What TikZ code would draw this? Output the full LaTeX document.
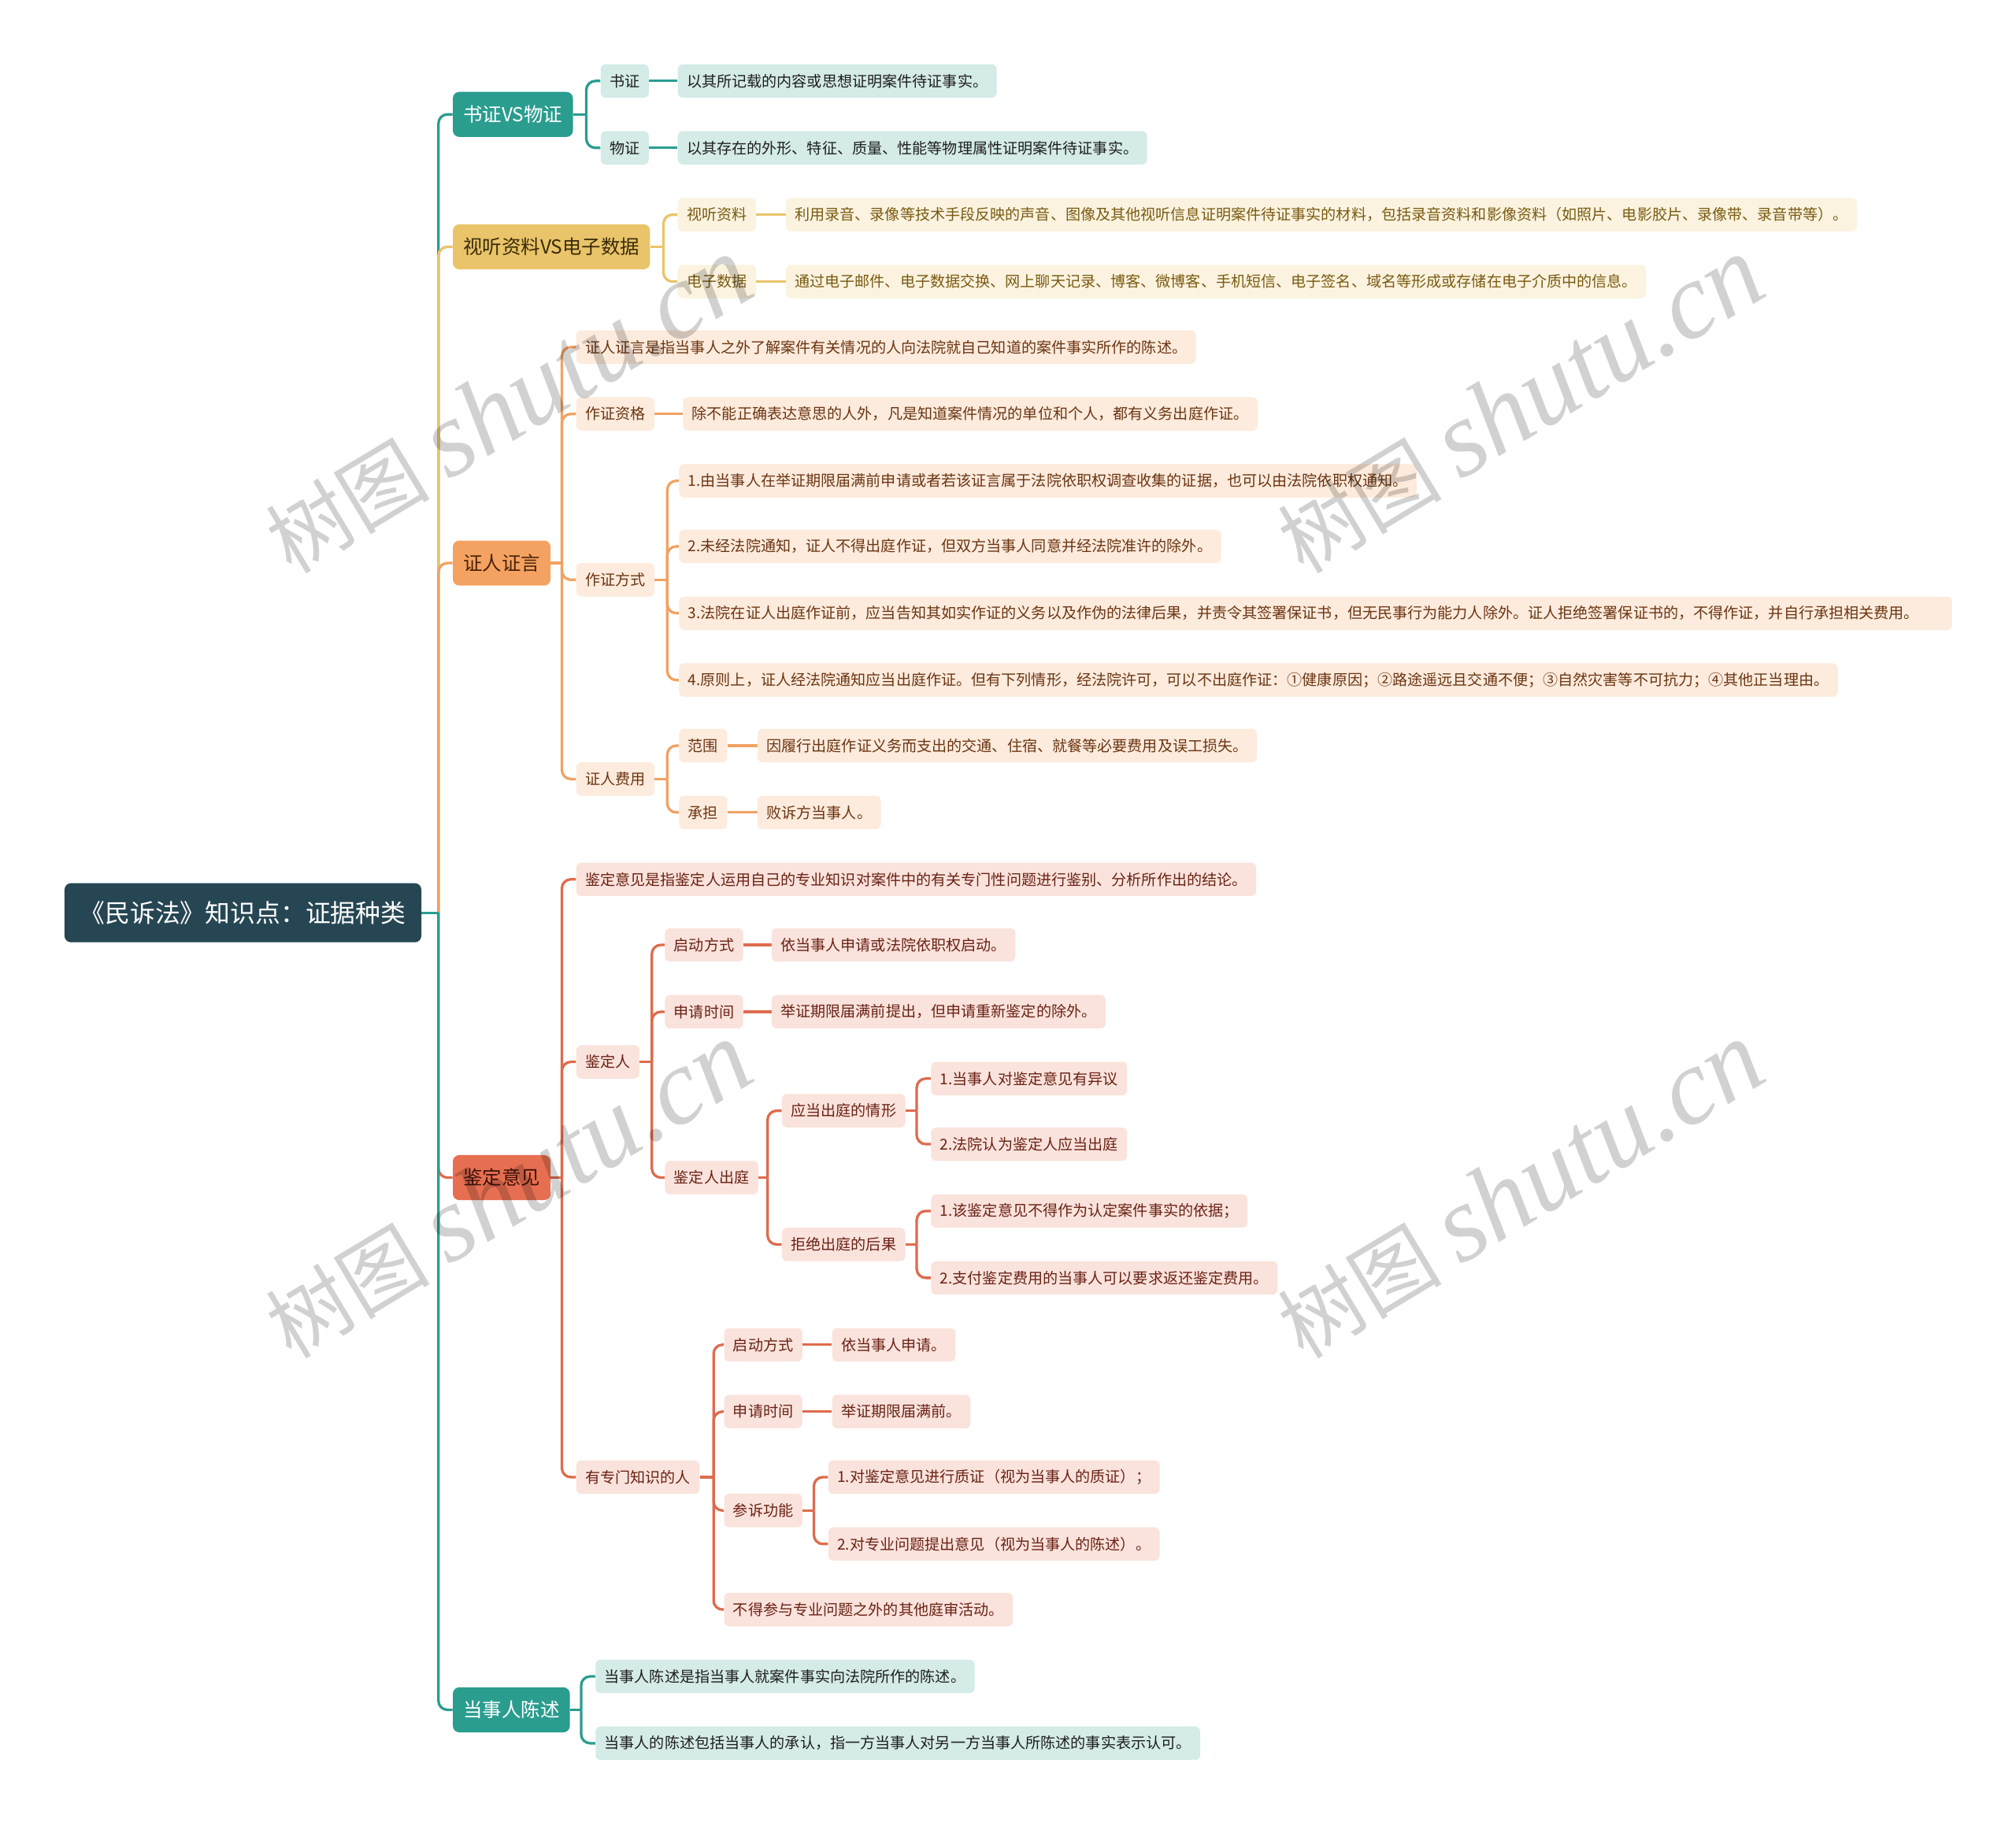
\documentclass[tikz,border=0pt]{standalone}
\usepackage{fontspec}
\setmainfont{Noto Sans CJK SC}
\newfontfamily\wmfont{Liberation Serif}
\usetikzlibrary{calc,backgrounds}
\definecolor{rootC}{HTML}{264653}
\definecolor{tealC}{HTML}{2A9D8F}
\definecolor{tealF}{HTML}{D4EBE8}
\definecolor{tealT}{HTML}{1E1E1E}
\definecolor{yelC}{HTML}{E9C46A}
\definecolor{yelF}{HTML}{FBF3E0}
\definecolor{yelT}{HTML}{7A5A10}
\definecolor{yelM}{HTML}{3A2C08}
\definecolor{oraC}{HTML}{F0A262}
\definecolor{oraM}{HTML}{F4A261}
\definecolor{oraF}{HTML}{FDEBDD}
\definecolor{oraT}{HTML}{6B3512}
\definecolor{oraMT}{HTML}{4A2206}
\definecolor{redC}{HTML}{DE6B4D}
\definecolor{redM}{HTML}{E76F51}
\definecolor{redF}{HTML}{FAE3DC}
\definecolor{redT}{HTML}{6A2114}
\definecolor{redMT}{HTML}{3E1209}
\tikzset{
  box/.style={rounded corners=4pt, inner xsep=7pt, inner ysep=0pt, minimum height=26pt,
    font=\fontsize{11.7}{12}\selectfont, anchor=west},
  mainbox/.style={rounded corners=5pt, inner xsep=8pt, inner ysep=0pt, minimum height=35pt,
    font=\fontsize{15}{16}\selectfont, anchor=west},
  rootbox/.style={rounded corners=5pt, inner xsep=12pt, inner ysep=0pt, minimum height=46pt,
    font=\fontsize{19.5}{20}\selectfont, anchor=west, fill=rootC, text=white},
  mT/.style={mainbox, fill=tealC, text=white},
  mY/.style={mainbox, fill=yelC, text=yelM},
  mO/.style={mainbox, fill=oraM, text=oraMT},
  mR/.style={mainbox, fill=redM, text=redMT},
  bT/.style={box, fill=tealF, text=tealT},
  bY/.style={box, fill=yelF, text=yelT},
  bO/.style={box, fill=oraF, text=oraT},
  bR/.style={box, fill=redF, text=redT},
  lT/.style={draw=tealC, line width=2pt, rounded corners=7pt},
  lY/.style={draw=yelC, line width=2pt, rounded corners=7pt},
  lO/.style={draw=oraC, line width=2pt, rounded corners=7pt},
  lR/.style={draw=redC, line width=2pt, rounded corners=7pt},
  wm/.style={text=black, text opacity=0.18, inner sep=0pt, font=\fontsize{64}{66}\selectfont, rotate=31},
}
\newcommand{\wmtext}{树图 {\wmfont\itshape\fontsize{84}{86}\selectfont shutu.cn}}
\begin{document}
\begin{tikzpicture}[x=1pt,y=-1pt]
\useasboundingbox (0,0) rectangle (1568,1420);

% ---------- nodes ----------
\node[rootbox] (root) at (50,710) {《民诉法》知识点：证据种类};

\node[mT] (m1) at (352,89) {书证VS物证};
\node[mY] (m2) at (352,192) {视听资料VS电子数据};
\node[mO] (m3) at (352,438) {证人证言};
\node[mR] (m4) at (352,916) {鉴定意见};
\node[mT] (m5) at (352,1330) {当事人陈述};

% branch 1
\node[bT] (a1) at (467,63) {书证};
\node[bT] (a1l) at (527,63) {以其所记载的内容或思想证明案件待证事实。};
\node[bT] (a2) at (467,115) {物证};
\node[bT] (a2l) at (527,115) {以其存在的外形、特征、质量、性能等物理属性证明案件待证事实。};

% branch 2
\node[bY] (b1) at (527,167) {视听资料};
\node[bY] (b1l) at (611,167) {利用录音、录像等技术手段反映的声音、图像及其他视听信息证明案件待证事实的材料，包括录音资料和影像资料（如照片、电影胶片、录像带、录音带等）。};
\node[bY] (b2) at (527,219) {电子数据};
\node[bY] (b2l) at (611,219) {通过电子邮件、电子数据交换、网上聊天记录、博客、微博客、手机短信、电子签名、域名等形成或存储在电子介质中的信息。};

% branch 3
\node[bO] (c0) at (448,270) {证人证言是指当事人之外了解案件有关情况的人向法院就自己知道的案件事实所作的陈述。};
\node[bO] (c1) at (448,322) {作证资格};
\node[bO] (c1l) at (531,322) {除不能正确表达意思的人外，凡是知道案件情况的单位和个人，都有义务出庭作证。};
\node[bO] (c2) at (448,451) {作证方式};
\node[bO] (c21) at (528,374) {1.由当事人在举证期限届满前申请或者若该证言属于法院依职权调查收集的证据，也可以由法院依职权通知。};
\node[bO] (c22) at (528,425) {2.未经法院通知，证人不得出庭作证，但双方当事人同意并经法院准许的除外。};
\node[bO, text width=976pt] (c23) at (528,477) {3.法院在证人出庭作证前，应当告知其如实作证的义务以及作伪的法律后果，并责令其签署保证书，但无民事行为能力人除外。证人拒绝签署保证书的，不得作证，并自行承担相关费用。};
\node[bO] (c24) at (528,529) {4.原则上，证人经法院通知应当出庭作证。但有下列情形，经法院许可，可以不出庭作证：①健康原因；②路途遥远且交通不便；③自然灾害等不可抗力；④其他正当理由。};
\node[bO] (c3) at (448,606) {证人费用};
\node[bO] (c31) at (528,580) {范围};
\node[bO] (c31l) at (589,580) {因履行出庭作证义务而支出的交通、住宿、就餐等必要费用及误工损失。};
\node[bO] (c32) at (528,632) {承担};
\node[bO] (c32l) at (589,632) {败诉方当事人。};

% branch 4
\node[bR] (d0) at (448,684) {鉴定意见是指鉴定人运用自己的专业知识对案件中的有关专门性问题进行鉴别、分析所作出的结论。};
\node[bR] (d1) at (448,826) {鉴定人};
\node[bR] (d11) at (517,735) {启动方式};
\node[bR] (d11l) at (600,735) {依当事人申请或法院依职权启动。};
\node[bR] (d12) at (517,787) {申请时间};
\node[bR] (d12l) at (600,787) {举证期限届满前提出，但申请重新鉴定的除外。};
\node[bR] (d13) at (517,916) {鉴定人出庭};
\node[bR] (d131) at (608,864) {应当出庭的情形};
\node[bR] (d1311) at (724,839) {1.当事人对鉴定意见有异议};
\node[bR] (d1312) at (724,890) {2.法院认为鉴定人应当出庭};
\node[bR] (d132) at (608,968) {拒绝出庭的后果};
\node[bR] (d1321) at (724,942) {1.该鉴定意见不得作为认定案件事实的依据；};
\node[bR] (d1322) at (724,994) {2.支付鉴定费用的当事人可以要求返还鉴定费用。};
\node[bR] (d2) at (448,1149) {有专门知识的人};
\node[bR] (d21) at (563,1046) {启动方式};
\node[bR] (d21l) at (647,1046) {依当事人申请。};
\node[bR] (d22) at (563,1098) {申请时间};
\node[bR] (d22l) at (647,1098) {举证期限届满前。};
\node[bR] (d23) at (563,1175) {参诉功能};
\node[bR] (d231) at (644,1149) {1.对鉴定意见进行质证（视为当事人的质证）；};
\node[bR] (d232) at (644,1201) {2.对专业问题提出意见（视为当事人的陈述）。};
\node[bR] (d24) at (563,1252) {不得参与专业问题之外的其他庭审活动。};

% branch 5
\node[bT] (e1) at (463,1304) {当事人陈述是指当事人就案件事实向法院所作的陈述。};
\node[bT] (e2) at (463,1356) {当事人的陈述包括当事人的承认，指一方当事人对另一方当事人所陈述的事实表示认可。};

% ---------- bus points ----------
\coordinate (rb) at (341,710);
\coordinate (bm1) at (456,89);
\coordinate (bm2) at (516,192);
\coordinate (bm3) at (437,438);
\coordinate (bc2) at (519,451);
\coordinate (bc3) at (519,606);
\coordinate (bm4) at (437,916);
\coordinate (bd1) at (507,826);
\coordinate (bd13) at (597,916);
\coordinate (bd131) at (713,864);
\coordinate (bd132) at (713,968);
\coordinate (bd2) at (555,1149);
\coordinate (bd23) at (633,1175);
\coordinate (bm5) at (452,1330);

% ---------- connectors ----------
\begin{scope}[on background layer]
\fill[white] (0,0) rectangle (1568,1420);
% root
\draw[lT] (root.east) -- (rb); \draw[lT] (rb) |- (m1.west);
\draw[lY] (root.east) -- (rb); \draw[lY] (rb) |- (m2.west);
\draw[lO] (root.east) -- (rb); \draw[lO] (rb) |- (m3.west);
\draw[lR] (root.east) -- (rb); \draw[lR] (rb) |- (m4.west);
\draw[lT] (root.east) -- (rb); \draw[lT] (rb) |- (m5.west);
% branch 1
\draw[lT] (m1.east) -- (bm1);
\draw[lT] (bm1) |- (a1.west); \draw[lT] (bm1) |- (a2.west);
\draw[lT] (a1.east) -- (a1l.west); \draw[lT] (a2.east) -- (a2l.west);
% branch 2
\draw[lY] (m2.east) -- (bm2);
\draw[lY] (bm2) |- (b1.west); \draw[lY] (bm2) |- (b2.west);
\draw[lY] (b1.east) -- (b1l.west); \draw[lY] (b2.east) -- (b2l.west);
% branch 3
\draw[lO] (m3.east) -- (bm3);
\foreach \n in {c0,c1,c2,c3} \draw[lO] (bm3) |- (\n.west);
\draw[lO] (c1.east) -- (c1l.west);
\draw[lO] (c2.east) -- (bc2);
\foreach \n in {c21,c22,c23,c24} \draw[lO] (bc2) |- (\n.west);
\draw[lO] (c3.east) -- (bc3);
\foreach \n in {c31,c32} \draw[lO] (bc3) |- (\n.west);
\draw[lO] (c31.east) -- (c31l.west); \draw[lO] (c32.east) -- (c32l.west);
% branch 4
\draw[lR] (m4.east) -- (bm4);
\foreach \n in {d0,d1,d2} \draw[lR] (bm4) |- (\n.west);
\draw[lR] (d1.east) -- (bd1);
\foreach \n in {d11,d12,d13} \draw[lR] (bd1) |- (\n.west);
\draw[lR] (d11.east) -- (d11l.west); \draw[lR] (d12.east) -- (d12l.west);
\draw[lR] (d13.east) -- (bd13);
\foreach \n in {d131,d132} \draw[lR] (bd13) |- (\n.west);
\draw[lR] (d131.east) -- (bd131);
\foreach \n in {d1311,d1312} \draw[lR] (bd131) |- (\n.west);
\draw[lR] (d132.east) -- (bd132);
\foreach \n in {d1321,d1322} \draw[lR] (bd132) |- (\n.west);
\draw[lR] (d2.east) -- (bd2);
\foreach \n in {d21,d22,d23,d24} \draw[lR] (bd2) |- (\n.west);
\draw[lR] (d21.east) -- (d21l.west); \draw[lR] (d22.east) -- (d22l.west);
\draw[lR] (d23.east) -- (bd23);
\foreach \n in {d231,d232} \draw[lR] (bd23) |- (\n.west);
% branch 5
\draw[lT] (m5.east) -- (bm5);
\draw[lT] (bm5) |- (e1.west); \draw[lT] (bm5) |- (e2.west);
\end{scope}

% ---------- watermarks ----------
\node[wm] (w1) at (395,315) {\wmtext};
\node[wm] (w2) at (1182,315) {\wmtext};
\node[wm] (w3) at (395,926) {\wmtext};
\node[wm] (w4) at (1182,926) {\wmtext};
\end{tikzpicture}
\end{document}
